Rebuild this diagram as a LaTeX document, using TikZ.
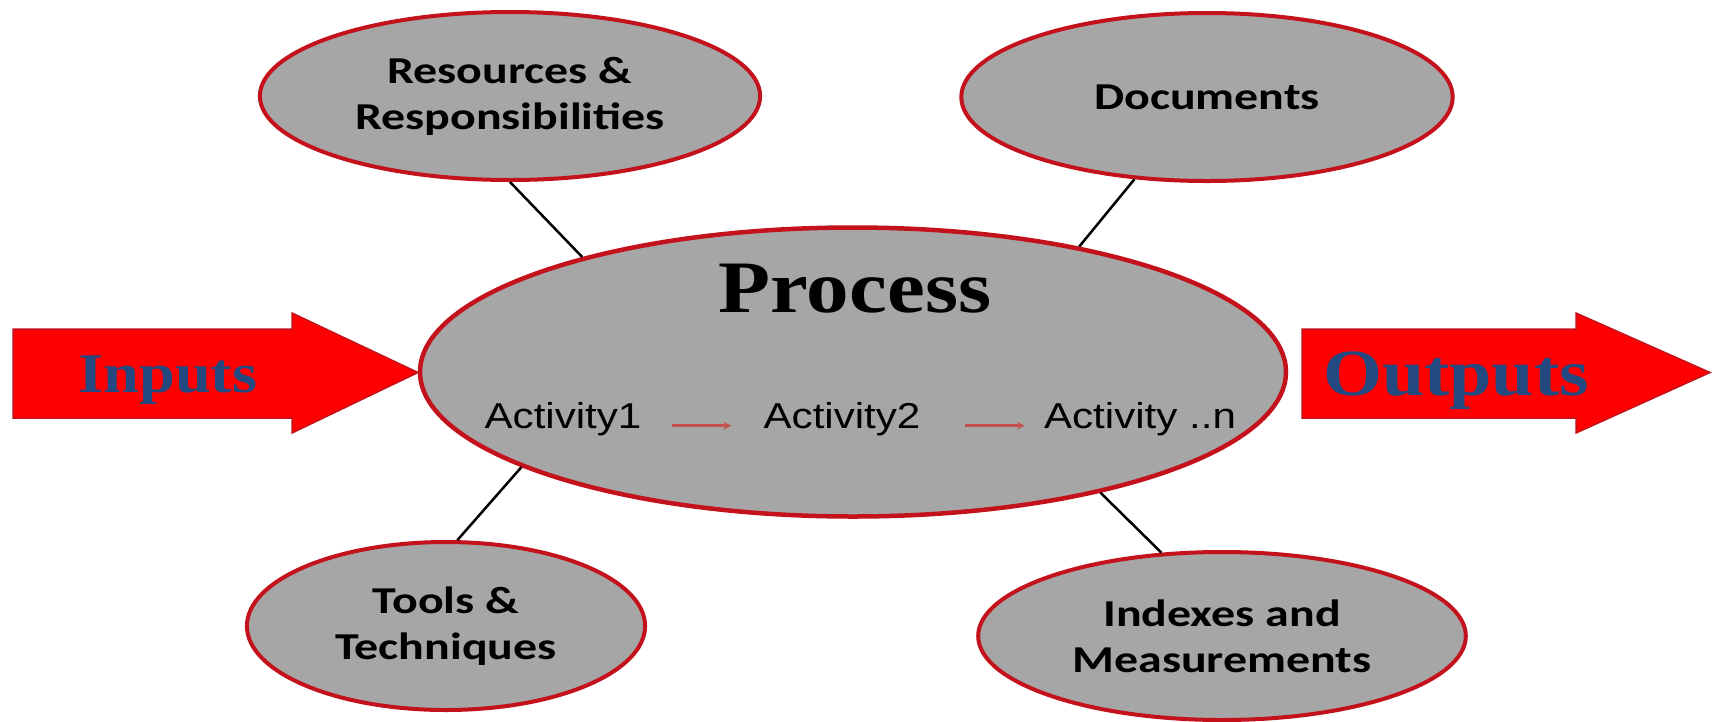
\documentclass[tikz,border=0pt]{standalone}
\usepackage{fontspec}
\setmainfont{Liberation Serif}
\newfontfamily\calfont{Carlito}
\newfontfamily\arialfont{Liberation Sans}
\usetikzlibrary{shapes.geometric}
\definecolor{ovalgray}{RGB}{166,166,166}
\definecolor{ovalred}{RGB}{196,18,28}
\definecolor{arrowred}{RGB}{255,0,0}
\definecolor{wordblue}{RGB}{36,72,128}
\definecolor{stepred}{RGB}{196,80,77}

\tikzset{
  oval/.style={ellipse, draw=ovalred, line width=4pt, fill=ovalgray, inner sep=0pt},
  satellite/.style={oval, xscale=1.26, minimum height=168pt, align=center,
    font=\calfont\bfseries\fontsize{38}{46}\selectfont},
  bigword/.style={xscale=1.15, inner sep=0pt, font=\bfseries\fontsize{#1}{#1}\selectfont},
  activity/.style={xscale=1.17, inner sep=0pt, anchor=base, font=\arialfont\fontsize{36}{40}\selectfont},
  bigarrow/.style={fill=arrowred, draw=ovalred, line width=1.5pt},
  spoke/.style={draw=black, line width=2.5pt},
  stepline/.style={draw=stepred, line width=2.5pt, ->, >=stealth}
}

\begin{document}
\begin{tikzpicture}[x=1pt,y=-1pt]
  \useasboundingbox (0,0) rectangle (1719,721);
  % inputs and outputs
  \draw[bigarrow] (13,329) -- (292,329) -- (292,313) -- (418,372.5) -- (292,433) -- (292,418) -- (13,418) -- cycle;
  \draw[bigarrow] (1302,329) -- (1576,329) -- (1576,313) -- (1710,372.5) -- (1576,433) -- (1576,418) -- (1302,418) -- cycle;
  \node[bigword=56, anchor=base, text=wordblue] (inword) at (168,392) {Inputs};
  \node[bigword=66, anchor=base, text=wordblue] (outword) at (1456,395) {Outputs};

  % the process
  \node[oval, line width=4.5pt, minimum width=866pt, minimum height=289pt] (proc) at (853,372) {};
  \node[bigword=74, anchor=base] (ptitle) at (855,312) {Process};
  \node[activity] (act1) at (563,428) {Activity1};
  \node[activity] (act2) at (842,428) {Activity2};
  \node[activity] (actn) at (1140,428) {Activity ..n};
  \draw[stepline] ([xshift=30pt]act1.mid east) -- ([xshift=-32pt]act2.mid west);
  \draw[stepline] ([xshift=44pt]act2.mid east) -- ([xshift=-19pt]actn.mid west);

  % around the process
  \node[satellite, minimum width=397pt] (res) at (510,96) {Resources \&\\Responsibilities};
  \node[satellite, minimum width=390pt] (docs) at (1207,97) {Documents};
  \node[satellite, minimum width=316pt] (tools) at (446,626) {Tools \&\\Techniques};
  \node[satellite, minimum width=387pt] (index) at (1222,636) {Indexes and\\Measurements};
  \draw[spoke] (res.south) -- (proc.157);
  \draw[spoke] (docs.235) -- (proc.29.5);
  \draw[spoke] (tools.84) -- (proc.196.6);
  \draw[spoke] (index.120) -- (proc.334);
\end{tikzpicture}
\end{document}
